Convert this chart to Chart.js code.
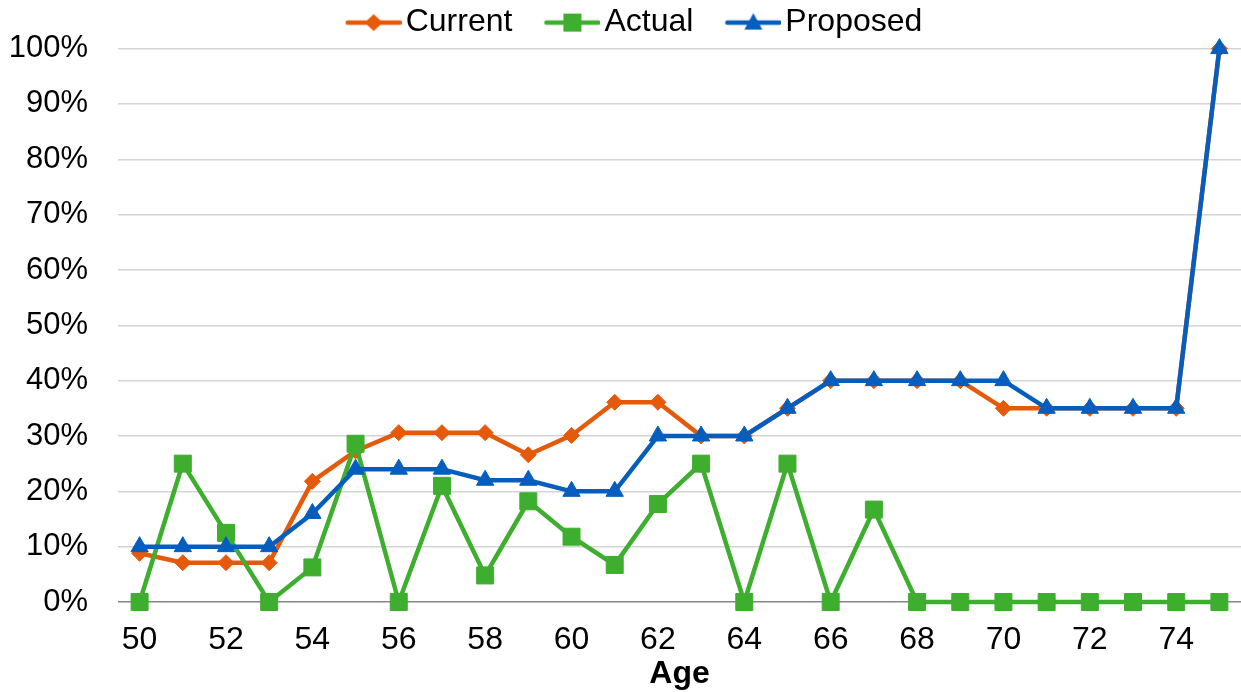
<!DOCTYPE html>
<html>
<head>
<meta charset="utf-8">
<script src="https://cdn.jsdelivr.net/npm/chart.js@4.4.1/dist/chart.umd.min.js"></script>
<style>
  html, body { margin: 0; padding: 0; background: #fff; }
  #wrap { width: 1241px; height: 692px; }
</style>
</head>
<body>
<div id="wrap"><canvas id="ageChart"></canvas></div>
<script>
const ages = ["50", "51", "52", "53", "54", "55", "56", "57", "58", "59", "60", "61", "62",
  "63", "64", "65", "66", "67", "68", "69", "70", "71", "72", "73", "74", "75"];
const xTickLabels = ["50", "52", "54", "56", "58", "60", "62", "64", "66", "68", "70", "72", "74"];

const current = [8.8, 7.1, 7.1, 7.1, 21.8, 27.3, 30.6, 30.6, 30.6, 26.6, 30.1, 36.1, 36.1,
  30, 30, 35, 40, 40, 40, 40, 35, 35, 35, 35, 35, 100];
const actual = [0, 25, 12.5, 0, 6.25, 28.6, 0, 21, 4.8, 18.2, 11.8, 6.7, 17.7,
  25, 0, 25, 0, 16.7, 0, 0, 0, 0, 0, 0, 0, 0];
const proposed = [10, 10, 10, 10, 16, 24, 24, 24, 22, 22, 20, 20, 30,
  30, 30, 35, 40, 40, 40, 40, 40, 35, 35, 35, 35, 100];

const orange = "#E5590B";
const green = "#3DAE2D";
const blue = "#055EBD";

// legend glyph: short line with the marker in the middle (drawn right-aligned in the image)
function legendIcon(color, style) {
  const c = document.createElement("canvas");
  c.width = 95;
  c.height = 24;
  const g = c.getContext("2d");
  const cy = 12, cx = 95 - 28;
  g.strokeStyle = color;
  g.fillStyle = color;
  g.lineWidth = 4.5;
  g.lineCap = "round";
  g.beginPath();
  g.moveTo(95 - 54, cy);
  g.lineTo(93, cy);
  g.stroke();
  g.beginPath();
  if (style === "rectRot") {
    g.moveTo(cx - 9, cy); g.lineTo(cx, cy - 8.5); g.lineTo(cx + 9, cy); g.lineTo(cx, cy + 8.5);
  } else if (style === "rect") {
    g.rect(cx - 9, cy - 9, 18, 18);
  } else {
    g.moveTo(cx, cy - 9.5); g.lineTo(cx + 9, cy + 7); g.lineTo(cx - 9, cy + 7);
  }
  g.closePath();
  g.fill();
  return c;
}

Chart.defaults.font.family = "'Liberation Sans', Arial, sans-serif";
Chart.defaults.color = "#000";

const ctx = document.getElementById("ageChart").getContext("2d");

new Chart(ctx, {
  type: "line",
  data: {
    labels: ages,
    datasets: [
      {
        label: "Current",
        data: current,
        borderColor: orange,
        backgroundColor: orange,
        borderWidth: 4.5,
        pointStyle: "rectRot",
        pointRadius: 8,
        pointBorderWidth: 1,
        clip: false,
        order: 2,
      },
      {
        label: "Actual",
        data: actual,
        borderColor: green,
        backgroundColor: green,
        borderWidth: 4.5,
        pointStyle: "rect",
        pointRadius: 12,
        pointBorderWidth: 1,
        clip: false,
        order: 1,
      },
      {
        label: "Proposed",
        data: proposed,
        borderColor: blue,
        backgroundColor: blue,
        borderWidth: 4.5,
        pointStyle: "triangle",
        pointRadius: 10,
        pointBorderWidth: 1,
        clip: false,
        order: 0,
      },
    ],
  },
  options: {
    responsive: true,
    maintainAspectRatio: false,
    animation: false,
    layout: { padding: 0, autoPadding: false },
    elements: { line: { tension: 0 } },
    plugins: {
      tooltip: { enabled: false },
      legend: {
        display: true,
        position: "top",
        labels: {
          font: { size: 32 },
          usePointStyle: true,
          pointStyleWidth: 71,
          padding: 5,
          generateLabels: (chart) =>
            chart.data.datasets.map((ds, i) => ({
              text: ds.label,
              datasetIndex: i,
              pointStyle: legendIcon(ds.borderColor, ds.pointStyle),
              fillStyle: ds.borderColor,
              strokeStyle: ds.borderColor,
              lineWidth: 0,
              fontColor: "#000",
              hidden: !chart.isDatasetVisible(i),
            })),
        },
      },
    },
    scales: {
      x: {
        offset: true,
        grid: { display: false, drawTicks: false },
        border: { display: false },
        ticks: {
          autoSkip: false,
          maxRotation: 0,
          padding: 19,
          font: { size: 32 },
          callback: function (value) {
            const lab = this.getLabelForValue(value);
            return xTickLabels.includes(lab) ? lab : "";
          },
        },
        title: {
          display: true,
          text: "Age",
          font: { size: 32, weight: "bold", lineHeight: 1 },
          padding: { top: 2, bottom: 2 },
        },
        afterFit: (scale) => {
          scale.height = 90;
          scale.paddingLeft = 0;
          scale.paddingRight = 0;
        },
      },
      y: {
        min: 0,
        max: 100,
        border: { display: false },
        grid: {
          drawTicks: false,
          lineWidth: 1.5,
          color: (c) => (c.tick && c.tick.value === 0 ? "#868686" : "#D4D4D4"),
        },
        ticks: {
          stepSize: 10,
          padding: 30,
          font: { size: 31 },
          callback: (v) => v + "%",
        },
        afterFit: (scale) => {
          scale.width = 118;
        },
      },
    },
  },
});
</script>
</body>
</html>
